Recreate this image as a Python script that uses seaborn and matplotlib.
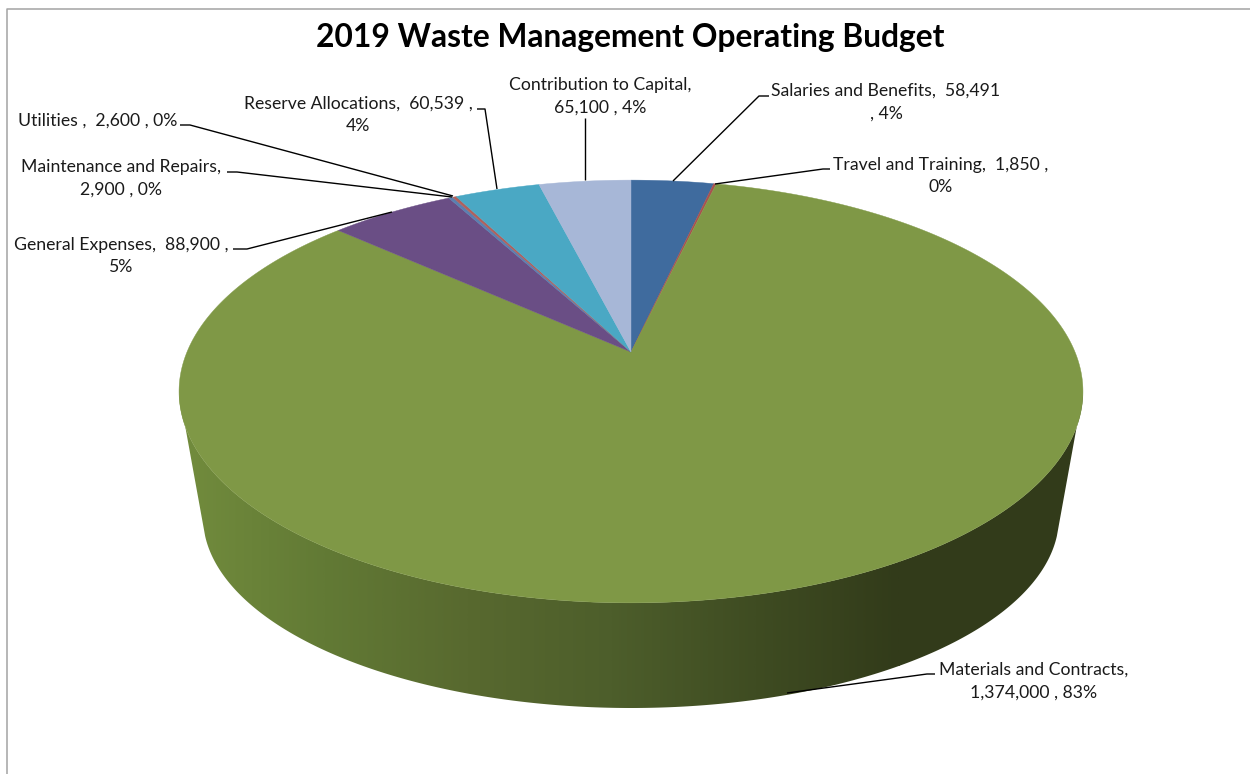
import numpy as np
import matplotlib
matplotlib.use("Agg")
import matplotlib.pyplot as plt
from matplotlib.patches import Polygon
import seaborn as sns

# chart values
categories = ["Salaries and Benefits", "Travel and Training", "Materials and Contracts",
               "General Expenses", "Maintenance and Repairs", "Utilities ",
               "Reserve Allocations", "Contribution to Capital"]
amounts = [58491, 1850, 1374000, 88900, 2900, 2600, 60539, 65100]
wedge_colors = ["#3f6b9e", "#a9524f", "#7f9846", "#6a4e85", "#5a7fb0", "#b0605c", "#4aa8c4", "#a7b7d7"]
side_colors = ["#728c3d", "#627a35", "#58692f", "#4d5e2b", "#3f4c22", "#323b1a"]

title = "2019 Waste Management Operating Budget"

sns.set_theme(style="white")
plt.rcParams["font.family"] = ["Lato", "DejaVu Sans"]

W, H = 1250, 774
APEX_X, APEX_Y = 631, 352
A, B, K = 444, 204, 0.1868   # perspective of the pie top


def top_xy(angle):
    # clockwise degrees from 12 o'clock, projected onto the tilted disc
    t = np.radians(angle)
    d = 1 + K * np.cos(t)
    return APEX_X + A * np.sin(t) / d, APEX_Y - B * np.cos(t) / d


fig = plt.figure(figsize=(W / 100, H / 100), dpi=100, facecolor="white")
ax = fig.add_axes([0, 0, 1, 1])
ax.set_xlim(0, W)
ax.set_ylim(H, 0)
ax.axis("off")

# chart frame, only top and left show
ax.plot([W, 7, 7], [9, 9, H], color="#a3a3a3", lw=1.1, zorder=1)

# side wall: lower half of the top rim + base ellipse, filled with a gradient
rim = np.linspace(0, 360, 1441)
rim_x, rim_y = top_xy(rim)
lower = rim_y > 391.5
order = np.argsort(rim_x[lower])
front_x, front_y = rim_x[lower][order], rim_y[lower][order]
base_t = np.linspace(np.arccos(0.995), np.pi - np.arccos(0.995), 300)
base_x = APEX_X + 428 * np.cos(base_t)
base_y = 517 + 191 * np.sin(base_t)
side_pts = np.vstack([np.column_stack([front_x, front_y]),
                      np.column_stack([base_x, base_y])])
side = Polygon(side_pts, closed=True, facecolor="none", edgecolor="none")
ax.add_patch(side)
cmap = sns.blend_palette(side_colors, as_cmap=True)
img = ax.imshow(np.linspace(0, 1, 512)[None, :], cmap=cmap, aspect="auto",
                extent=(179, 900, 720, 380), zorder=2)
ax.set_xlim(0, W)
ax.set_ylim(H, 0)
ax.fill_betweenx([380, 720], 899, 1090, color=side_colors[-1], lw=0, zorder=2,
                 clip_path=side)
img.set_clip_path(side)

# pie top
palette = sns.color_palette(wedge_colors)
shares = np.array(amounts) / sum(amounts)
edges = np.concatenate([[0], np.cumsum(shares) * 360])
for i, color in enumerate(palette):
    arc = np.linspace(edges[i], edges[i + 1], max(int(edges[i + 1] - edges[i]) * 4, 4))
    xs, ys = top_xy(arc)
    pts = np.vstack([[APEX_X, APEX_Y], np.column_stack([xs, ys])])
    ax.add_patch(Polygon(pts, closed=True, facecolor=color, edgecolor=color, lw=0.3, zorder=3))

# data labels
pcts = [round(s * 100) for s in shares]
label_text = [f"{c},  {a:,} , {p}%" for c, a, p in zip(categories, amounts, pcts)]
label_text[0] = label_text[0].replace(" , ", "\n, ")
label_text[1] = label_text[1].replace(" , ", " ,\n")
label_text[2] = label_text[2].replace(",  ", ",\n")
label_text[3] = label_text[3].replace(" , ", " ,\n")
label_text[4] = label_text[4].replace(",  ", ",\n")
label_text[6] = label_text[6].replace(" , ", " ,\n")
label_text[7] = label_text[7].replace(",  ", ",\n")

label_pos = [(886, 102), (941, 176), (1034, 681), (121, 256),
             (121, 178), (98, 121), (358, 115), (600, 96)]
leaders = [[(769, 96), (759, 96), (673, 181)],
           [(830, 169), (823, 169), (715, 184)],
           [(935, 674), (927, 674), (787, 693)],
           [(233, 249), (247, 249), (392, 212)],
           [(227, 172), (237, 172), (452, 197)],
           [(180, 125), (190, 125), (453, 196)],
           [(477, 109), (485, 109), (497, 189)],
           [(585, 118), (585, 180)]]

for text, (x, y), line in zip(label_text, label_pos, leaders):
    ax.text(x, y, text, ha="center", va="center", fontsize=12.7, color="#1a1a1a",
            linespacing=1.5, zorder=5)
    ax.plot(*zip(*line), color="black", lw=1.0, zorder=4, solid_capstyle="butt")

ax.text(630, 37, title, ha="center", va="center", fontsize=22.9, fontweight="bold",
        color="black", zorder=5)

fig.savefig("out.png", dpi=100)
